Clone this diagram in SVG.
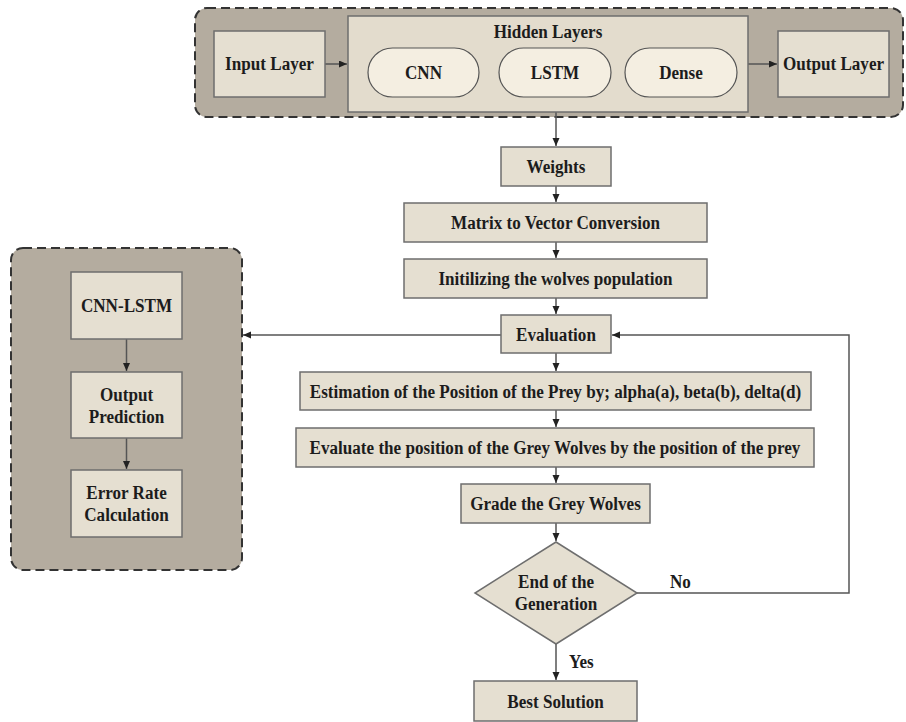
<svg xmlns="http://www.w3.org/2000/svg" width="906" height="722" viewBox="0 0 906 722">
<defs>
<style>
.cont{fill:#b4ac9f;stroke:#333;stroke-width:2;stroke-dasharray:9,5}
.box{fill:#e5dfd1;stroke:#6e6e6e;stroke-width:1.5}
.hid{fill:#e3dccd;stroke:#6e6e6e;stroke-width:1.5}
.pill{fill:#f4eee1;stroke:#555;stroke-width:1.2}
.t{font-family:"Liberation Serif","Times New Roman",serif;font-weight:bold;font-size:19px;fill:#1c1c1c;text-anchor:middle}
.c{fill:none;stroke:#555;stroke-width:1.5}
.lbl{font-family:"Liberation Serif","Times New Roman",serif;font-weight:bold;font-size:19px;fill:#1c1c1c}
</style>
<marker id="ah" markerWidth="9" markerHeight="8" refX="8" refY="3.5" orient="auto" markerUnits="userSpaceOnUse">
<path d="M0,0 L8,3.5 L0,7 z" fill="#222"/>
</marker>
</defs>
<rect width="906" height="722" fill="#fff"/>

<g id="top-container">
<rect class="cont" x="195" y="8" width="708" height="109" rx="12"/>
</g>
<g id="left-container">
<rect class="cont" x="11" y="248" width="231" height="322" rx="12"/>
</g>

<g id="connectors">
<path class="c" d="M325,64 H347" marker-end="url(#ah)"/>
<path class="c" d="M748,64 H777" marker-end="url(#ah)"/>
<path class="c" d="M556,112 V146" marker-end="url(#ah)"/>
<path class="c" d="M556,186 V202" marker-end="url(#ah)"/>
<path class="c" d="M556,242 V258" marker-end="url(#ah)"/>
<path class="c" d="M556,298 V314" marker-end="url(#ah)"/>
<path class="c" d="M556,353 V371" marker-end="url(#ah)"/>
<path class="c" d="M556,410 V427" marker-end="url(#ah)"/>
<path class="c" d="M556,467 V483" marker-end="url(#ah)"/>
<path class="c" d="M556,523 V541" marker-end="url(#ah)"/>
<path class="c" d="M556,644 V680" marker-end="url(#ah)"/>
<path class="c" d="M636,593 H849 V335 H612" marker-end="url(#ah)"/>
<path class="c" d="M501,335 H243" marker-end="url(#ah)"/>
<path class="c" d="M126.5,339 V371" marker-end="url(#ah)"/>
<path class="c" d="M126.5,438 V469" marker-end="url(#ah)"/>
</g>

<g id="input-layer">
<rect class="box" x="214" y="31" width="111" height="66"/>
<text class="t" transform="translate(269.5 70) scale(.9 1)">Input Layer</text>
</g>
<g id="hidden-layers">
<rect class="hid" x="348" y="16" width="400" height="96"/>
<text class="t" transform="translate(548 38) scale(.9 1)">Hidden Layers</text>
</g>
<g id="cnn">
<rect class="pill" x="368" y="48" width="111" height="49" rx="24.5"/>
<text class="t" transform="translate(423.5 79) scale(.9 1)">CNN</text>
</g>
<g id="lstm">
<rect class="pill" x="499" y="48" width="112" height="49" rx="24.5"/>
<text class="t" transform="translate(555 79) scale(.9 1)">LSTM</text>
</g>
<g id="dense">
<rect class="pill" x="625" y="48" width="112" height="49" rx="24.5"/>
<text class="t" transform="translate(681 79) scale(.9 1)">Dense</text>
</g>
<g id="output-layer">
<rect class="box" x="778" y="31" width="111" height="66"/>
<text class="t" transform="translate(833.5 70) scale(.9 1)">Output Layer</text>
</g>

<g id="weights">
<rect class="box" x="501" y="147" width="110" height="39"/>
<text class="t" transform="translate(556 173) scale(.9 1)">Weights</text>
</g>
<g id="matrix">
<rect class="box" x="404" y="203" width="303" height="39"/>
<text class="t" transform="translate(555.5 229) scale(.9 1)">Matrix to Vector Conversion</text>
</g>
<g id="init">
<rect class="box" x="404" y="259" width="303" height="39"/>
<text class="t" transform="translate(555.5 285) scale(.9 1)">Initilizing the wolves population</text>
</g>
<g id="evaluation">
<rect class="box" x="501" y="315" width="110" height="38"/>
<text class="t" transform="translate(556 341) scale(.9 1)">Evaluation</text>
</g>
<g id="estimation">
<rect class="box" x="300" y="372" width="511" height="38"/>
<text class="t" transform="translate(555.5 398) scale(.9 1)">Estimation of the Position of the Prey by; alpha(a), beta(b), delta(d)</text>
</g>
<g id="evaluate-position">
<rect class="box" x="296" y="428" width="518" height="39"/>
<text class="t" transform="translate(555 454) scale(.9 1)">Evaluate the position of the Grey Wolves by the position of the prey</text>
</g>
<g id="grade">
<rect class="box" x="461" y="484" width="189" height="39"/>
<text class="t" transform="translate(555.5 510) scale(.9 1)">Grade the Grey Wolves</text>
</g>
<g id="end-generation">
<polygon class="box" points="556,542 637,593 556,644 475,593"/>
<text class="t" transform="translate(556 588) scale(.9 1)">End of the</text>
<text class="t" transform="translate(556 610) scale(.9 1)">Generation</text>
</g>
<g id="best-solution">
<rect class="box" x="474" y="681" width="163" height="40"/>
<text class="t" transform="translate(555.5 708) scale(.9 1)">Best Solution</text>
</g>

<g id="cnn-lstm">
<rect class="box" x="71" y="272" width="111" height="67"/>
<text class="t" transform="translate(126.5 312) scale(.9 1)">CNN-LSTM</text>
</g>
<g id="output-prediction">
<rect class="box" x="71" y="372" width="111" height="66"/>
<text class="t" transform="translate(126.5 401) scale(.9 1)">Output</text>
<text class="t" transform="translate(126.5 423) scale(.9 1)">Prediction</text>
</g>
<g id="error-rate">
<rect class="box" x="71" y="470" width="111" height="67"/>
<text class="t" transform="translate(126.5 499) scale(.9 1)">Error Rate</text>
<text class="t" transform="translate(126.5 521) scale(.9 1)">Calculation</text>
</g>

<g id="edge-labels">
<text class="lbl" transform="translate(670 588) scale(.9 1)">No</text>
<text class="lbl" transform="translate(569 668) scale(.9 1)">Yes</text>
</g>
</svg>
